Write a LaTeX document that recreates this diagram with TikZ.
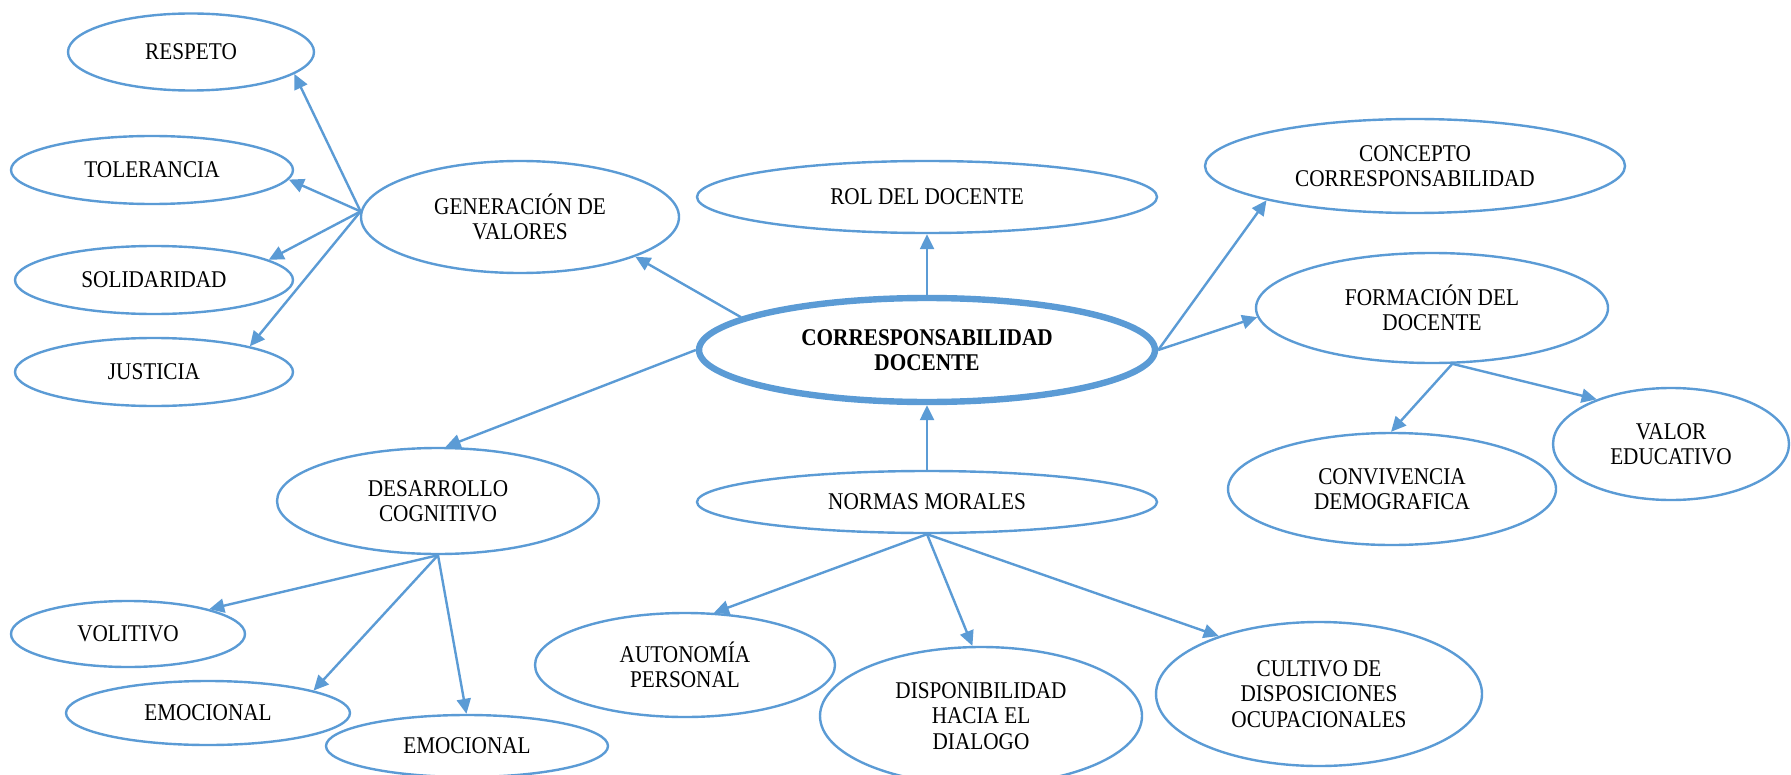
\documentclass[tikz,border=0pt]{standalone}
\usepackage{fontspec}
\setmainfont{Liberation Serif}[FakeStretch=0.885]
\usetikzlibrary{shapes.geometric,arrows.meta}
\definecolor{accent}{HTML}{5B9BD5}
\begin{document}
\begin{tikzpicture}[x=0.5pt,y=-0.5pt,
  bub/.style={ellipse,draw=accent,line width=1.2pt,inner sep=0pt,align=center,
    font=\fontsize{12}{12.7}\selectfont},
  mainbub/.style={bub,line width=3.2pt,font=\fontsize{12}{12.7}\selectfont\bfseries},
  arr/.style={draw=accent,line width=1.2pt,-{Triangle[length=7.5pt,width=7pt]}}
]
\useasboundingbox (0,0) rectangle (1791,775);

% nodes (position in px, size: width = rx pt, height = ry pt)
\node[bub,minimum width=123pt,minimum height=38.5pt] (resp) at (191,52) {RESPETO};
\node[bub,minimum width=141pt,minimum height=34pt] (tol) at (152,170) {TOLERANCIA};
\node[bub,minimum width=139pt,minimum height=34pt] (sol) at (154,280) {SOLIDARIDAD};
\node[bub,minimum width=139pt,minimum height=34pt] (jus) at (154,372) {JUSTICIA};
\node[bub,minimum width=159pt,minimum height=56pt] (gen) at (520,217) {GENERACIÓN DE\\VALORES};
\node[bub,minimum width=230pt,minimum height=36pt] (rol) at (927,197) {ROL DEL DOCENTE};
\node[mainbub,minimum width=228pt,minimum height=52pt] (cor) at (927,350) {CORRESPONSABILIDAD\\DOCENTE};
\node[bub,minimum width=230pt,minimum height=31pt] (nor) at (927,502) {NORMAS MORALES};
\node[bub,minimum width=210pt,minimum height=47pt] (con) at (1415,166) {CONCEPTO\\CORRESPONSABILIDAD};
\node[bub,minimum width=176pt,minimum height=55pt] (for) at (1432,308) {FORMACIÓN DEL\\DOCENTE};
\node[bub,minimum width=164pt,minimum height=56pt] (conv) at (1392,489) {CONVIVENCIA\\DEMOGRAFICA};
\node[bub,minimum width=118pt,minimum height=56pt] (val) at (1671,444) {VALOR\\EDUCATIVO};
\node[bub,minimum width=161pt,minimum height=53pt] (des) at (438,501) {DESARROLLO\\COGNITIVO};
\node[bub,minimum width=117pt,minimum height=33pt] (vol) at (128,634) {VOLITIVO};
\node[bub,minimum width=142pt,minimum height=32pt] (em1) at (208,713) {EMOCIONAL};
\node[bub,minimum width=141pt,minimum height=31pt] (em2) at (467,746) {EMOCIONAL};
\node[bub,minimum width=150pt,minimum height=52pt] (aut) at (685,665) {AUTONOMÍA\\PERSONAL};
\node[bub,minimum width=161pt,minimum height=69pt] (dis) at (981,716) {DISPONIBILIDAD\\HACIA EL\\DIALOGO};
\node[bub,minimum width=163pt,minimum height=72pt] (cul) at (1319,694) {CULTIVO DE\\DISPOSICIONES\\OCUPACIONALES};

% connectors
\draw[arr] (gen.178) -- (resp.-12);
\draw[arr] (gen.178) -- (tol.-4);
\draw[arr] (gen.178) -- (sol.10);
\draw[arr] (gen.178) -- (jus.15);
\draw[arr] (cor.170) -- (gen.-19);
\draw[arr] (cor.90) -- (rol.-90);
\draw[arr] (nor.90) -- (cor.-90);
\draw[arr] (cor.180) -- (des.82);
\draw[arr] (cor.0) -- (con.193);
\draw[arr] (cor.0) -- (for.183);
\draw[arr] (for.-70) -- (conv.91);
\draw[arr] (for.-70) -- (val.149);
\draw[arr] (des.-90) -- (vol.17);
\draw[arr] (des.-90) -- (em1.12);
\draw[arr] (des.-90) -- (em2.91);
\draw[arr] (nor.-90) -- (aut.61);
\draw[arr] (nor.-90) -- (dis.97);
\draw[arr] (nor.-90) -- (cul.150);
\end{tikzpicture}
\end{document}
